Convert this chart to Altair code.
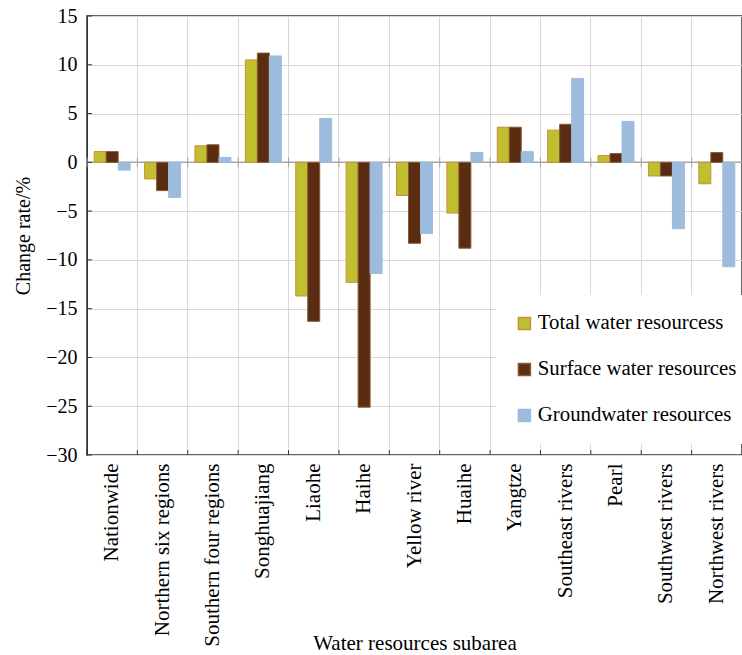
import altair as alt
import pandas as pd

categories = ["Nationwide", "Northern six regions", "Southern four regions", "Songhuajiang",
              "Liaohe", "Haihe", "Yellow river", "Huaihe", "Yangtze", "Southeast rivers",
              "Pearl", "Southwest rivers", "Northwest rivers"]
series = ["Total water resourcess", "Surface water resources", "Groundwater resources"]
total = [1.1, -1.7, 1.7, 10.5, -13.7, -12.3, -3.4, -5.2, 3.6, 3.3, 0.7, -1.4, -2.2]
surface = [1.1, -2.9, 1.8, 11.2, -16.3, -25.1, -8.3, -8.8, 3.6, 3.9, 0.9, -1.4, 1.0]
ground = [-0.8, -3.6, 0.5, 10.9, 4.5, -11.4, -7.3, 1.0, 1.1, 8.6, 4.2, -6.8, -10.7]
y_ticks = [-30, -25, -20, -15, -10, -5, 0, 5, 10, 15]

rows = []
for name, vals in zip(series, [total, surface, ground]):
    for c, v in zip(categories, vals):
        rows.append({"region": c, "series": name, "value": v})
df = pd.DataFrame(rows)
df_cat = pd.DataFrame({"region": categories})
df_yt = pd.DataFrame({"t": y_ticks})

fills = ["#bfbf30", "#5a2c12", "#9dbcdd"]
strokes = ["#c8903c", "#8a5a34", "#9dbcdd"]
FONT = "Liberation Serif"

xscale = alt.Scale(paddingInner=0, paddingOuter=0)
yscale = alt.Scale(domain=[-30, 15], nice=False, zero=False)

bars = alt.Chart(df).mark_bar(strokeWidth=1).encode(
    x=alt.X("region:N", sort=categories, scale=xscale,
            axis=alt.Axis(title="Water resources subarea", labelAngle=-90, grid=True,
                          bandPosition=0, ticks=False, domain=False, labelFontSize=21,
                          titleFontSize=21, labelPadding=8, titleY=188, labelLimit=0,
                          titleBaseline="middle", gridColor="#d8d8d8", labelColor="black",
                          titleColor="black", titleFontWeight="normal")),
    xOffset=alt.XOffset("series:N", sort=series,
                        scale=alt.Scale(paddingOuter=0.6, paddingInner=0)),
    y=alt.Y("value:Q", scale=yscale,
            axis=alt.Axis(values=y_ticks, title="Change rate/%", ticks=False,
                          labelFontSize=20, titleFontSize=20, labelPadding=10,
                          gridColor="#d8d8d8", domainColor="#333", labelColor="black",
                          titleColor="black", titleFontWeight="normal", titleX=-64,
                          titleBaseline="middle")),
    color=alt.Color("series:N", sort=series,
                    scale=alt.Scale(domain=series, range=fills),
                    legend=alt.Legend(title=None, orient="none", legendX=409, legendY=279,
                                      fillColor="white", padding=18, labelFontSize=20.8,
                                      labelFont=FONT, symbolType="square", symbolSize=144,
                                      rowPadding=24, labelLimit=0, labelColor="black",
                                      labelOffset=3)),
    stroke=alt.Stroke("series:N", sort=series,
                      scale=alt.Scale(domain=series, range=strokes), legend=None),
)

zero = alt.Chart(pd.DataFrame({"v": [0]})).mark_rule(color="#a6a6a6", strokeWidth=1.5).encode(
    y=alt.Y("v:Q", scale=yscale)
)

# short tick marks at category boundaries: on the bottom frame and across the zero line
ticks_bottom = alt.Chart(df_cat).mark_rule(color="#333", strokeWidth=1).encode(
    x=alt.X("region:N", sort=categories, scale=xscale, bandPosition=0),
    y=alt.datum(-30), y2=alt.datum(-29.5),
)
ticks_zero = alt.Chart(df_cat).mark_rule(color="#a6a6a6", strokeWidth=1).encode(
    x=alt.X("region:N", sort=categories, scale=xscale, bandPosition=0),
    y=alt.datum(-0.5), y2=alt.datum(0.5),
)
# inward ticks on the left frame
ticks_left = alt.Chart(df_yt).mark_rule(color="#333", strokeWidth=1).encode(
    y=alt.Y("t:Q", scale=yscale), x=alt.value(0), x2=alt.value(5),
)

chart = alt.layer(zero, ticks_zero, bars, ticks_bottom, ticks_left).properties(
    width=655, height=439,
    autosize=alt.AutoSizeParams(type="none"),
    padding={"left": 87, "top": 16, "right": 0, "bottom": 200},
).configure_view(stroke="#333", strokeWidth=1.5).configure_axis(
    labelFont=FONT, titleFont=FONT
).configure_legend(labelFont=FONT)

chart.save("out.html", embed_options={"renderer": "svg", "actions": False})
